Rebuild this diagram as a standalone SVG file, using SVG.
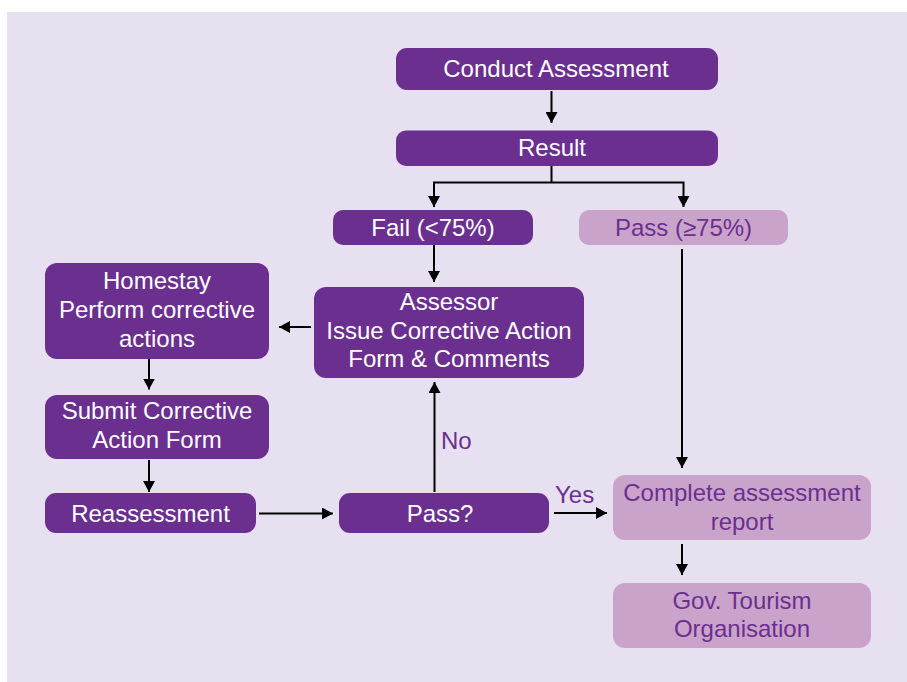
<svg xmlns="http://www.w3.org/2000/svg" width="907" height="682" viewBox="0 0 907 682">
<defs>
<marker id="ah" markerWidth="11" markerHeight="12" refX="11" refY="6" orient="auto" markerUnits="userSpaceOnUse">
<path d="M0,0 L11,6 L0,12 z" fill="#000"/>
</marker>
<style>
.dark{fill:#6a2f8f;}
.light{fill:#caa3ca;}
text{font-family:"Liberation Sans",Arial,sans-serif;font-size:24px;text-anchor:middle;}
.wt{fill:#ffffff;}
.pt{fill:#6a2f8f;}
.lbl{text-anchor:start;}
.conn line,.conn polyline{stroke:#000;stroke-width:2;fill:none;}
</style>
</defs>
<rect x="7" y="12" width="900" height="670" fill="#e7e0f0"/>
<g id="conduct"><rect class="dark" x="396" y="48" width="322" height="42" rx="11"/><text class="wt" x="556" y="77">Conduct Assessment</text></g>
<g id="result"><rect class="dark" x="396" y="130.5" width="322" height="35.5" rx="10"/><text class="wt" x="552" y="156">Result</text></g>
<g id="fail"><rect class="dark" x="333" y="210" width="200" height="35" rx="10"/><text class="wt" x="433" y="236">Fail (&lt;75%)</text></g>
<g id="pass"><rect class="light" x="579" y="210" width="209" height="35" rx="10"/><text class="pt" x="683.5" y="236">Pass (≥75%)</text></g>
<g id="assessor"><rect class="dark" x="314" y="287" width="270" height="91" rx="12"/><text class="wt" x="449" y="310">Assessor</text><text class="wt" x="449" y="338.5">Issue Corrective Action</text><text class="wt" x="449" y="367">Form &amp; Comments</text></g>
<g id="homestay"><rect class="dark" x="45" y="263" width="224" height="96" rx="12"/><text class="wt" x="157" y="289">Homestay</text><text class="wt" x="157" y="318">Perform corrective</text><text class="wt" x="157" y="347">actions</text></g>
<g id="submit"><rect class="dark" x="45" y="395" width="224" height="64" rx="12"/><text class="wt" x="157" y="419">Submit Corrective</text><text class="wt" x="157" y="448">Action Form</text></g>
<g id="reassessment"><rect class="dark" x="45" y="493" width="211" height="40" rx="11"/><text class="wt" x="150.5" y="521.5">Reassessment</text></g>
<g id="passq"><rect class="dark" x="339" y="493" width="210" height="40" rx="11"/><text class="wt" x="440" y="521.5">Pass?</text></g>
<g id="complete"><rect class="light" x="613" y="475" width="258" height="65" rx="12"/><text class="pt" x="742" y="501">Complete assessment</text><text class="pt" x="742" y="529.5">report</text></g>
<g id="gov"><rect class="light" x="613" y="583" width="258" height="65" rx="12"/><text class="pt" x="742" y="608.5">Gov. Tourism</text><text class="pt" x="742" y="637">Organisation</text></g>
<g id="connectors" class="conn">
<line x1="551.5" y1="91" x2="551.5" y2="123" marker-end="url(#ah)"/>
<line x1="551.5" y1="166" x2="551.5" y2="182.5"/>
<polyline points="434,207 434,182.5 683.5,182.5 683.5,207" marker-end="url(#ah)"/>
<line x1="434" y1="182.5" x2="434" y2="207" marker-end="url(#ah)"/>
<line x1="434" y1="245" x2="434" y2="282" marker-end="url(#ah)"/>
<line x1="682" y1="249" x2="682" y2="468" marker-end="url(#ah)"/>
<line x1="311" y1="327" x2="279" y2="327" marker-end="url(#ah)"/>
<line x1="149" y1="359" x2="149" y2="389.5" marker-end="url(#ah)"/>
<line x1="149" y1="460" x2="149" y2="492" marker-end="url(#ah)"/>
<line x1="259" y1="513.5" x2="333" y2="513.5" marker-end="url(#ah)"/>
<line x1="434.5" y1="492" x2="434.5" y2="382" marker-end="url(#ah)"/>
<line x1="554" y1="513" x2="607" y2="513" marker-end="url(#ah)"/>
<line x1="682" y1="544" x2="682" y2="575" marker-end="url(#ah)"/>
<text class="pt lbl" x="441" y="449">No</text>
<text class="pt lbl" x="555" y="503">Yes</text>
</g>
</svg>
